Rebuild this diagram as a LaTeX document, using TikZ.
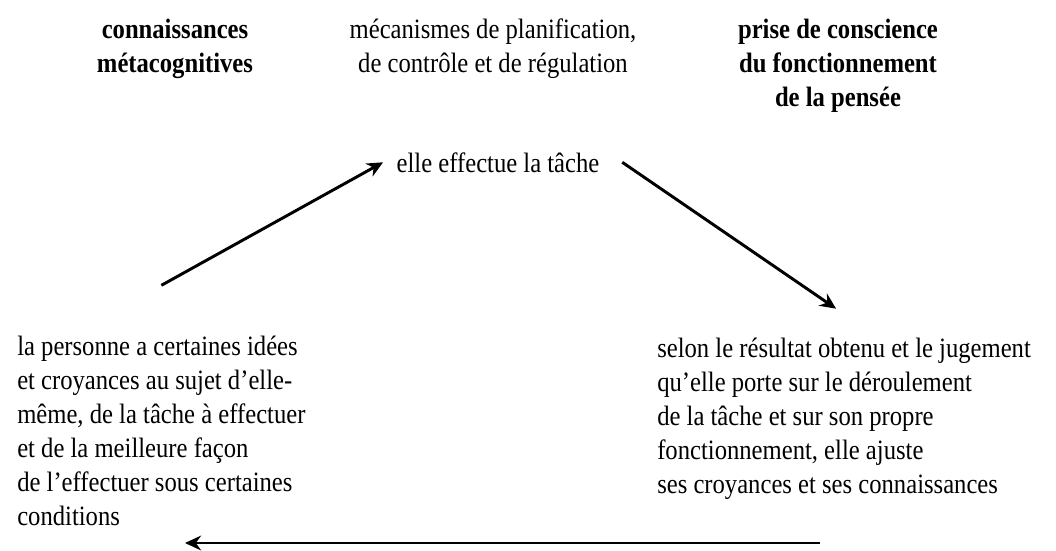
\documentclass[tikz,border=0pt]{standalone}
\usepackage{fontspec}
\setmainfont[FakeStretch=0.88]{Liberation Serif}
\usetikzlibrary{arrows.meta}
\tikzset{
  txt/.style={inner sep=0pt, font=\fontsize{21}{25.5}\selectfont},
  head/.style={txt, align=center, anchor=north},
  para/.style={txt, align=left, anchor=north west},
  arr/.style={line width=2.2pt, -{Stealth[length=12pt,width=11pt]}}
}
\begin{document}
\begin{tikzpicture}[x=0.75pt,y=-0.75pt]
\fill[white] (0,0) rectangle (1056,550);
\useasboundingbox (0,0) rectangle (1056,550);
\node[head,font=\fontsize{21}{25.5}\selectfont\bfseries] (h1) at (175,19) {connaissances\\métacognitives};
\node[head] (h2) at (493,19) {mécanismes de planification,\\de contrôle et de régulation};
\node[head,font=\fontsize{21}{25.5}\selectfont\bfseries] (h3) at (838,19) {prise de conscience\\du fonctionnement\\de la pensée};
\node[txt,anchor=base] (task) at (498,172) {elle effectue la tâche};
\node[para] (left) at (17,336) {la personne a certaines idées\\et croyances au sujet d’elle-\\même, de la tâche à effectuer\\et de la meilleure façon\\de l’effectuer sous certaines\\conditions};
\node[para] (right) at (657,338) {selon le résultat obtenu et le jugement\\qu’elle porte sur le déroulement\\de la tâche et sur son propre\\fonctionnement, elle ajuste\\ses croyances et ses connaissances};
\coordinate (bstart) at (820,543);
\coordinate (bend) at (185,543);
\draw[arr] ([yshift=38pt]left.north) -- ([xshift=-10pt]task.west);
\draw[arr] ([xshift=17pt]task.east) -- ([xshift=-6pt,yshift=22pt]right.north);
\draw[arr] (bstart) -- (bend);
\end{tikzpicture}
\end{document}
